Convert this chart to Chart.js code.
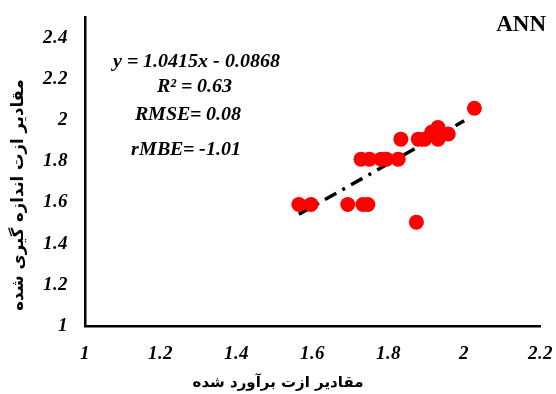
<!DOCTYPE html>
<html>
<head>
<meta charset="utf-8">
<script src="https://cdn.jsdelivr.net/npm/chart.js@4"></script>
<style>
  @font-face {
    font-family: 'SerifBI';
    src: local('Liberation Serif Bold Italic'), local('LiberationSerif-BoldItalic');
    font-weight: bold;
    font-style: italic;
  }
  html, body { margin: 0; padding: 0; background: #fff; }
  #wrap { width: 556px; height: 394px; }
</style>
</head>
<body>
<div id="wrap"><canvas id="c" width="556" height="394"></canvas></div>
<script>
const estimated = [1.564, 1.596, 1.693, 1.733, 1.746, 1.874, 1.728, 1.75, 1.781, 1.795, 1.826,
                   1.833, 1.879, 1.896, 1.914, 1.931, 1.931, 1.958, 2.027];
const measured  = [1.59, 1.59, 1.59, 1.59, 1.59, 1.504, 1.81, 1.81, 1.81, 1.81, 1.81,
                   1.907, 1.907, 1.907, 1.94, 1.964, 1.907, 1.932, 2.057];

const slope = 1.0415, intercept = -0.0868;
const trendX = [1.564, 2.0];

const xTicks = [1, 1.2, 1.4, 1.6, 1.8, 2, 2.2];
const yTicks = [1, 1.2, 1.4, 1.6, 1.8, 2, 2.2, 2.4];

const statLines = ['y = 1.0415x - 0.0868', 'R² = 0.63', 'RMSE= 0.08', 'rMBE= -1.01'];
const modelName = 'ANN';
const xTitle = 'مقادیر ازت برآورد شده';
const yTitle = 'مقادیر ازت اندازه گیری شده';

const points = estimated.map((x, i) => ({ x, y: measured[i] }));
const trend = trendX.map(x => ({ x, y: slope * x + intercept }));

const serif = 'SerifBI, "Liberation Serif", serif';
const tickFont = { family: serif, size: 19, weight: 'bold', style: 'italic' };

const textPlugin = {
  id: 'texts',
  afterDraw(chart) {
    const ctx = chart.ctx;
    ctx.save();
    ctx.fillStyle = '#000';
    ctx.textBaseline = 'middle';
    ctx.textAlign = 'center';
    ctx.font = 'italic bold 20px ' + serif;
    const pos = [[196, 62], [194, 87], [188, 115], [186, 150]];
    statLines.forEach((t, i) => ctx.fillText(t, pos[i][0], pos[i][1]));
    ctx.font = 'bold 23px "Liberation Serif"';
    ctx.textAlign = 'right';
    ctx.fillText(modelName, 546, 25);
    ctx.textAlign = 'center';
    ctx.font = 'bold 15px "DejaVu Sans"';
    ctx.fillText(xTitle, 278, 383);
    ctx.font = 'bold 16.5px "DejaVu Sans"';
    ctx.translate(19, 195);
    ctx.rotate(-Math.PI / 2);
    ctx.fillText(yTitle, 0, 0);
    ctx.restore();
  }
};

function draw() {
  new Chart(document.getElementById('c'), {
    type: 'scatter',
    data: {
      datasets: [{
        data: points,
        backgroundColor: '#ff0000',
        borderWidth: 0,
        pointRadius: 7.5
      }, {
        type: 'line',
        data: trend,
        borderColor: '#000',
        borderWidth: 3.5,
        borderDash: [13, 7, 3, 7],
        pointRadius: 0,
        fill: false
      }]
    },
    options: {
      responsive: false,
      animation: false,
      layout: { padding: { top: 17, right: 16, left: 0, bottom: 0 } },
      plugins: { legend: { display: false }, tooltip: { enabled: false } },
      scales: {
        x: {
          type: 'linear', min: 1, max: 2.2,
          ticks: { color: '#000', font: tickFont, padding: 17, maxRotation: 0, callback: v => String(v) },
          afterBuildTicks(s) { s.ticks = xTicks.map(value => ({ value })); },
          grid: { display: false, drawTicks: false },
          border: { color: '#000', width: 2.5 },
          afterFit(s) { s.height = 68; s.paddingLeft = 0; s.paddingRight = 0; }
        },
        y: {
          type: 'linear', min: 1, max: 2.5,
          ticks: { color: '#000', font: tickFont, padding: 17, callback: v => String(v) },
          afterBuildTicks(s) { s.ticks = yTicks.map(value => ({ value })); },
          grid: { display: false, drawTicks: false },
          border: { color: '#000', width: 2.5 },
          afterFit(s) { s.width = 85; s.paddingTop = 0; s.paddingBottom = 0; }
        }
      }
    },
    plugins: [textPlugin]
  });
}

document.fonts.load('italic bold 19px SerifBI').then(draw, draw);
</script>
</body>
</html>
